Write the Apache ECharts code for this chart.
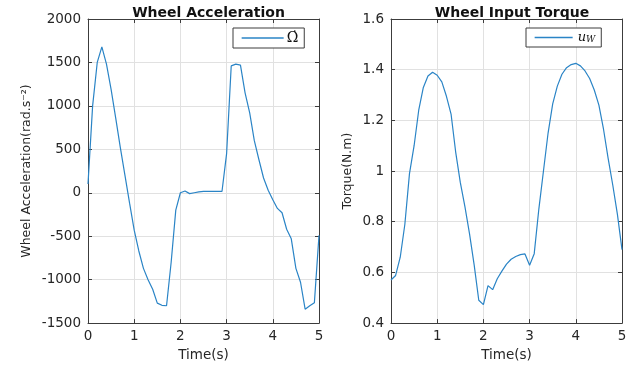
<!DOCTYPE html>
<html>
<head>
<meta charset="utf-8">
<script src="https://cdn.jsdelivr.net/npm/echarts@6/dist/echarts.min.js"></script>
<style>
  html, body { margin: 0; padding: 0; background: #ffffff; }
  #chart { width: 643px; height: 367px; }
</style>
</head>
<body>
<div id="chart"></div>
<script>
// Simulation time samples (s)
const time = [0.0, 0.1, 0.2, 0.3, 0.4, 0.5, 0.6, 0.7, 0.8, 0.9,
              1.0, 1.1, 1.2, 1.3, 1.4, 1.5, 1.6, 1.7, 1.8, 1.9,
              2.0, 2.1, 2.2, 2.3, 2.4, 2.5, 2.6, 2.7, 2.8, 2.9,
              3.0, 3.1, 3.2, 3.3, 3.4, 3.5, 3.6, 3.7, 3.8, 3.9,
              4.0, 4.1, 4.2, 4.3, 4.4, 4.5, 4.6, 4.7, 4.8, 4.9, 5.0];

// Wheel angular acceleration (rad.s^-2)
const wheelAccel = [100, 1000, 1500, 1680, 1480, 1190, 860, 520, 200, -120,
                    -430, -670, -870, -1000, -1110, -1270, -1295, -1300, -800, -200,
                    0, 20, -10, 0, 10, 15, 15, 15, 15, 15,
                    450, 1460, 1480, 1470, 1150, 920, 600, 380, 170, 30,
                    -80, -180, -230, -420, -530, -870, -1030, -1340, -1300, -1265, -490];

// Wheel input torque (N.m)
const wheelTorque = [0.570, 0.588, 0.660, 0.790, 0.990, 1.100, 1.240, 1.330, 1.375, 1.390,
                     1.378, 1.352, 1.295, 1.225, 1.075, 0.955, 0.860, 0.752, 0.630, 0.490,
                     0.473, 0.548, 0.532, 0.575, 0.605, 0.633, 0.652, 0.663, 0.670, 0.673,
                     0.628, 0.674, 0.850, 1.000, 1.150, 1.265, 1.335, 1.382, 1.408, 1.420,
                     1.425, 1.415, 1.395, 1.365, 1.320, 1.260, 1.165, 1.050, 0.945, 0.830, 0.690];

const accelRange = { min: -1500, max: 2000, interval: 500 };
const torqueRange = { min: 0.4, max: 1.6, interval: 0.2 };
const timeRange = { min: 0, max: 5, interval: 1 };

const FONT = 'DejaVu Sans';
const INK = '#262626';
const FRAME = '#3c3c3c';
const GRIDLINE = '#e1e1e1';
const LINE = '#2a84c6';

const accelPairs = time.map((t, i) => [t, wheelAccel[i]]);
const torquePairs = time.map((t, i) => [t, wheelTorque[i]]);

// plain numbers: no thousands separators, minimal decimals
const plain = v => String(Math.round(v * 1000) / 1000);

function xAxes(gridIndex) {
  const base = {
    type: 'value', gridIndex,
    min: timeRange.min, max: timeRange.max, interval: timeRange.interval,
    axisLine: { show: true, onZero: false, lineStyle: { color: FRAME, width: 1 } },
    axisTick: { show: true, inside: true, length: 4, lineStyle: { color: FRAME } }
  };
  return [
    Object.assign({}, base, {
      position: 'bottom',
      name: 'Time(s)', nameLocation: 'middle', nameGap: 21,
      nameTextStyle: { fontFamily: FONT, fontSize: 13.5, color: INK },
      axisLabel: { fontFamily: FONT, fontSize: 13.5, color: INK, margin: 6, formatter: plain },
      splitLine: { show: true, lineStyle: { color: GRIDLINE, width: 1 } }
    }),
    Object.assign({}, base, {
      position: 'top',
      axisLabel: { show: false },
      splitLine: { show: false }
    })
  ];
}

function yAxes(gridIndex, range, name, nameGap) {
  const base = {
    type: 'value', gridIndex,
    min: range.min, max: range.max, interval: range.interval,
    axisLine: { show: true, onZero: false, lineStyle: { color: FRAME, width: 1 } },
    axisTick: { show: true, inside: true, length: 4, lineStyle: { color: FRAME } }
  };
  return [
    Object.assign({}, base, {
      position: 'left',
      name, nameLocation: 'middle', nameGap,
      nameTextStyle: { fontFamily: FONT, fontSize: 12.5, color: INK },
      axisLabel: { fontFamily: FONT, fontSize: 13.5, color: INK, margin: 7, formatter: plain },
      splitLine: { show: true, lineStyle: { color: GRIDLINE, width: 1 } }
    }),
    Object.assign({}, base, {
      position: 'right',
      axisLabel: { show: false },
      splitLine: { show: false }
    })
  ];
}

const chart = echarts.init(document.getElementById('chart'), null, { renderer: 'canvas' });

// boxed legends with a plain line sample (no marker)
const legendBase = {
  top: 28,
  padding: [3, 6, 3, 8],
  itemHeight: 10,
  backgroundColor: '#ffffff',
  borderColor: FRAME, borderWidth: 1,
  itemStyle: { opacity: 0 },
  lineStyle: { color: LINE, width: 1.3, opacity: 1 }
};

chart.setOption({
  animation: false,
  backgroundColor: '#ffffff',
  title: [
    { text: 'Wheel Acceleration', left: 203.5, top: 1, textAlign: 'center',
      textStyle: { fontFamily: FONT, fontWeight: 'bold', fontSize: 14, color: '#111' } },
    { text: 'Wheel Input Torque', left: 507, top: 1, textAlign: 'center',
      textStyle: { fontFamily: FONT, fontWeight: 'bold', fontSize: 14, color: '#111' } }
  ],
  grid: [
    { left: 88, right: 324, top: 19, bottom: 40 },
    { left: 391, right: 21, top: 19, bottom: 40 }
  ],
  xAxis: xAxes(0).concat(xAxes(1)),
  yAxis: yAxes(0, accelRange, 'Wheel Acceleration(rad.s\u207B\u00B2)', 55)
    .concat(yAxes(1, torqueRange, 'Torque(N.m)', 37)),
  legend: [
    Object.assign({}, legendBase, {
      data: ['accel'],
      left: 233,
      itemWidth: 42,
      formatter: () => 'Ω\u0307',
      textStyle: { fontFamily: 'DejaVu Serif', fontSize: 14, color: '#111', padding: [0, 0, 0, -2] }
    }),
    Object.assign({}, legendBase, {
      data: ['torque'],
      left: 526,
      itemWidth: 38,
      formatter: () => '{u|u}{w|W}',
      textStyle: {
        fontFamily: 'DejaVu Serif', fontSize: 13, color: '#111',
        rich: {
          u: { fontFamily: 'DejaVu Serif', fontStyle: 'italic', fontSize: 13, color: '#111' },
          w: { fontFamily: 'DejaVu Serif', fontStyle: 'italic', fontSize: 9, color: '#111',
               verticalAlign: 'bottom', padding: [4, 0, 0, 0] }
        }
      }
    })
  ],
  series: [
    {
      name: 'accel', type: 'line', xAxisIndex: 0, yAxisIndex: 0,
      data: accelPairs, showSymbol: false, symbol: 'none',
      lineStyle: { color: LINE, width: 1.2 }, itemStyle: { color: LINE }
    },
    {
      name: 'torque', type: 'line', xAxisIndex: 2, yAxisIndex: 2,
      data: torquePairs, showSymbol: false, symbol: 'none',
      lineStyle: { color: LINE, width: 1.2 }, itemStyle: { color: LINE }
    }
  ]
});
</script>
</body>
</html>
